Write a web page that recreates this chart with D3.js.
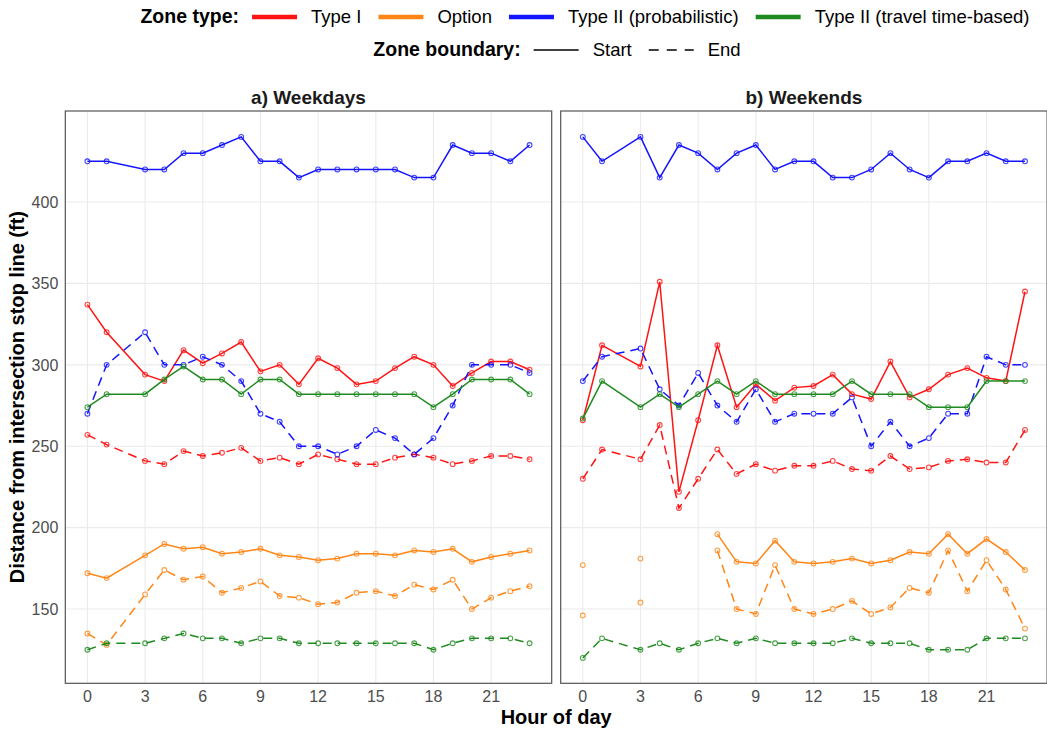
<!DOCTYPE html>
<html>
<head>
<meta charset="utf-8">
<script src="https://cdn.jsdelivr.net/npm/d3@7"></script>
<style>
  body { margin: 0; background: #fff; }
  text { font-family: "Liberation Sans", Arial, sans-serif; }
</style>
</head>
<body>
<svg id="chart" width="1047" height="731"></svg>
<script>
// ---- data ----
// hour 2 has no observations at all
const hours = [0,1,3,4,5,6,7,8,9,10,11,12,13,14,15,16,17,18,19,20,21,22,23];
const panelTitles = ["a) Weekdays", "b) Weekends"];
const zoneTypes = ["Type I", "Option", "Type II (probabilistic)", "Type II (travel time-based)"];
const zoneColors = ["#ff1414", "#ff8616", "#1414ff", "#1f8a1f"];
const boundaries = ["Start", "End"];
const xTicks = [0, 3, 6, 9, 12, 15, 18, 21];
const yTicks = [150, 200, 250, 300, 350, 400];

// weekdays
const wdType1Start = [337,320,294,290,309,301,307,314,296,300,288,304,298,288,290,298,305,300,287,295,302,302,297];
const wdType1End   = [257,251,241,239,247,244,246,249,241,243,239,245,242,239,239,243,245,243,239,241,244,244,242];
const wdOptionStart = [172,169,183,190,187,188,184,185,187,183,182,180,181,184,184,183,186,185,187,179,182,184,186];
const wdOptionEnd   = [135,128,159,174,168,170,160,163,167,158,157,153,154,160,161,158,165,162,168,150,157,161,164];
const wdProbStart = [425,425,420,420,430,430,435,440,425,425,415,420,420,420,420,420,415,415,435,430,430,425,435];
const wdProbEnd   = [270,300,320,300,300,305,300,290,270,265,250,250,245,250,260,255,245,255,275,300,300,300,295];
const wdTravelStart = [274,282,282,291,299,291,291,282,291,291,282,282,282,282,282,282,282,274,282,291,291,291,282];
const wdTravelEnd   = [125,129,129,132,135,132,132,129,132,132,129,129,129,129,129,129,129,125,129,132,132,132,129];

// weekends (option zone missing for some early hours)
const weType1Start = [266,312,299,351,222,266,312,274,288,278,286,287,294,282,279,302,280,285,294,298,292,290,345];
const weType1End   = [230,248,242,263,212,230,248,233,239,235,238,238,241,236,235,244,236,237,241,242,240,240,260];
const weOptionStart = [177,null,181,null,null,null,196,179,178,192,179,178,179,181,178,180,185,184,196,184,193,185,174];
const weOptionEnd   = [146,null,154,null,null,null,186,150,147,177,150,147,150,155,147,151,163,160,186,161,180,162,138];
const weProbStart = [440,425,440,415,435,430,420,430,435,420,425,425,415,415,420,430,420,415,425,425,430,425,425];
const weProbEnd   = [290,305,310,285,275,295,275,265,285,265,270,270,270,280,250,265,250,255,270,270,305,300,300];
const weTravelStart = [267,290,274,282,274,282,290,282,290,282,282,282,282,290,282,282,282,274,274,274,290,290,290];
const weTravelEnd   = [120,132,125,129,125,129,132,129,132,129,129,129,129,132,129,129,129,125,125,125,132,132,132];

const panelSeries = [
  [[wdType1Start, wdType1End], [wdOptionStart, wdOptionEnd], [wdProbStart, wdProbEnd], [wdTravelStart, wdTravelEnd]],
  [[weType1Start, weType1End], [weOptionStart, weOptionEnd], [weProbStart, weProbEnd], [weTravelStart, weTravelEnd]]
];

// ---- layout ----
const svg = d3.select("#chart");
const panelLeft = [65.3, 560.7],
      panelTop = 111,
      pw = 486.4,
      ph = 572.3;
const dashes = [null, "9,6"];
const textCol = "#4d4d4d";

const x = d3.scaleLinear().domain([-1.15, 24.15]).range([0, pw]);
const y = d3.scaleLinear().domain([104.4, 455.9]).range([ph, 0]);

panelTitles.forEach((title, p) => {
  let g = svg.append("g").attr("transform", `translate(${panelLeft[p]},${panelTop})`);

  // grid
  g.selectAll("line.vg").data(xTicks).enter().append("line")
    .attr("x1", d => x(d)).attr("x2", d => x(d))
    .attr("y1", 0).attr("y2", ph)
    .attr("stroke", "#ebebeb").attr("stroke-width", 1.1);
  g.selectAll("line.hg").data(yTicks).enter().append("line")
    .attr("x1", 0).attr("x2", pw)
    .attr("y1", d => y(d)).attr("y2", d => y(d))
    .attr("stroke", "#ebebeb").attr("stroke-width", 1.1);

  // series
  panelSeries[p].forEach((pair, zi) => {
    pair.forEach((vals, bi) => {
      let pts = hours.map((h, i) => ({h: h, v: vals[i]}));
      let line = d3.line()
        .defined(d => d.v !== null)
        .x(d => x(d.h)).y(d => y(d.v));
      g.append("path")
        .attr("d", line(pts))
        .attr("fill", "none")
        .attr("stroke", zoneColors[zi])
        .attr("stroke-width", 1.5)
        .attr("stroke-dasharray", dashes[bi]);
      g.selectAll(null).data(pts.filter(d => d.v !== null)).enter().append("circle")
        .attr("cx", d => x(d.h)).attr("cy", d => y(d.v))
        .attr("r", 2.4)
        .attr("fill", "none")
        .attr("stroke", zoneColors[zi])
        .attr("stroke-opacity", 0.8)
        .attr("stroke-width", 1.1);
    });
  });

  // border
  g.append("rect").attr("width", pw).attr("height", ph)
    .attr("fill", "none").attr("stroke", "#555").attr("stroke-width", 1.2);

  // x tick labels
  g.selectAll("text.xt").data(xTicks).enter().append("text")
    .attr("x", d => x(d)).attr("y", ph + 19)
    .attr("text-anchor", "middle")
    .attr("font-size", 16).attr("fill", textCol)
    .text(d => d);

  // y tick labels on first panel
  if (p === 0) {
    g.selectAll("text.yt").data(yTicks).enter().append("text")
      .attr("x", -7).attr("y", d => y(d)).attr("dy", "0.36em")
      .attr("text-anchor", "end")
      .attr("font-size", 16).attr("fill", textCol)
      .text(d => d);
  }

  // panel title
  svg.append("text")
    .attr("x", panelLeft[p] + pw / 2).attr("y", 104)
    .attr("text-anchor", "middle")
    .attr("font-size", 19).attr("font-weight", "bold").attr("fill", "#1a1a1a")
    .text(title);
});

// axis titles
svg.append("text")
  .attr("x", (panelLeft[0] + panelLeft[1] + pw) / 2).attr("y", 724)
  .attr("text-anchor", "middle")
  .attr("font-size", 20).attr("font-weight", "bold").attr("fill", "#000")
  .text("Hour of day");
svg.append("text")
  .attr("transform", `translate(24,${panelTop + ph / 2}) rotate(-90)`)
  .attr("text-anchor", "middle")
  .attr("font-size", 20).attr("font-weight", "bold").attr("fill", "#000")
  .text("Distance from intersection stop line (ft)");

// legends
function legendRow(yPos, title, labels, drawKey, center) {
  let row = svg.append("g");
  let cx = 0;
  let t = row.append("text").attr("x", cx).attr("y", yPos)
    .attr("font-size", 19.5).attr("font-weight", "bold").attr("fill", "#000").text(title);
  cx += t.node().getComputedTextLength() + 13;
  labels.forEach((lab, i) => {
    drawKey(row, cx, yPos - 6, i);
    cx += 45 + 14;
    let lt = row.append("text").attr("x", cx).attr("y", yPos)
      .attr("font-size", 18.5).attr("fill", "#000").text(lab);
    cx += lt.node().getComputedTextLength() + 17;
  });
  cx -= 17;
  row.attr("transform", `translate(${center - cx / 2},0)`);
}

legendRow(23, "Zone type:", zoneTypes, (row, kx, ky, i) => {
  row.append("line").attr("x1", kx).attr("x2", kx + 45)
    .attr("y1", ky).attr("y2", ky)
    .attr("stroke", zoneColors[i]).attr("stroke-width", 4.5);
}, 585);

legendRow(56, "Zone boundary:", boundaries, (row, kx, ky, i) => {
  row.append("line").attr("x1", kx).attr("x2", kx + 45)
    .attr("y1", ky).attr("y2", ky)
    .attr("stroke", "#000").attr("stroke-width", 1.5)
    .attr("stroke-dasharray", i ? "10,8" : null);
}, 557);
</script>
</body>
</html>
